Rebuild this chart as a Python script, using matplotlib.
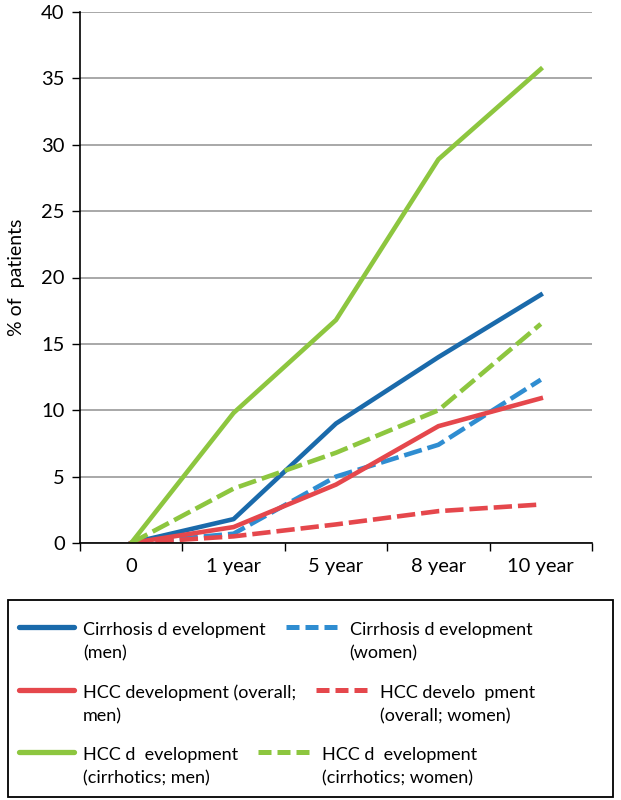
import matplotlib.pyplot as plt
from matplotlib.lines import Line2D
from matplotlib.patches import Rectangle
import numpy as np

plt.rcParams['font.family'] = ['Lato', 'DejaVu Sans']

# %% data
categories = ["0", "1 year", "5 year", "8 year", "10 year"]

cirr_men      = [0, 1.8, 9.0, 14.0, 18.7]
cirr_women    = [0, 0.7, 5.0, 7.4, 12.3]
hcc_men       = [0, 1.2, 4.4, 8.8, 10.9]
hcc_women     = [0, 0.5, 1.4, 2.4, 2.9]
hcc_cir_men   = [0, 9.8, 16.8, 28.9, 35.7]
hcc_cir_women = [0, 4.1, 6.8, 10.0, 16.5]

labels = ["Cirrhosis d evelopment\n(men)",
          "Cirrhosis d evelopment\n(women)",
          "HCC development (overall;\nmen)",
          "HCC develo  pment\n(overall; women)",
          "HCC d  evelopment\n(cirrhotics; men)",
          "HCC d  evelopment\n(cirrhotics; women)"]

blue_dark  = "#1a6aab"
blue_light = "#2f8dd1"
red        = "#e5474c"
green      = "#8dc63f"
dash       = (0, (4, 1.3))

# %% plot
W, H = 621, 800
fig = plt.figure(figsize = (W / 100, H / 100), dpi = 100)
ax = fig.add_axes([80 / W, 1 - 543 / H, 512 / W, 531 / H])

x = np.arange(len(categories))
lw = 3.3
ax.plot(x, cirr_men, color = blue_dark, lw = lw)
ax.plot(x, cirr_women, color = blue_light, lw = lw, ls = dash)
ax.plot(x, hcc_men, color = red, lw = lw)
ax.plot(x, hcc_women, color = red, lw = lw, ls = dash)
ax.plot(x, hcc_cir_men, color = green, lw = lw)
ax.plot(x, hcc_cir_women, color = green, lw = lw, ls = dash)

ax.set_ylim(0, 40)
ax.set_yticks(np.arange(0, 41, 5))
ax.set_xlim(-0.5, len(categories) - 0.5)
ax.set_xticks(np.arange(-0.5, len(categories), 1.0))
ax.set_xticklabels([])
ax.set_xticks(x, minor = True)
ax.set_xticklabels(categories, minor = True)
ax.tick_params(axis = "x", which = "minor", length = 0, pad = 11, labelsize = 14.5)
ax.tick_params(axis = "x", which = "major", length = 6, width = 1)
ax.tick_params(axis = "y", length = 6, width = 1, labelsize = 14.5, pad = 5)

ax.yaxis.grid(True, color = "#999999", lw = 1.2)
ax.set_axisbelow(True)
for s in ["top", "right"]:
    ax.spines[s].set_visible(False)
ax.spines["left"].set_linewidth(1.2)
ax.spines["bottom"].set_linewidth(1.2)

ax.set_ylabel("% of  patients", fontsize = 14, labelpad = 12)

# %% legend box drawn below the axes (row by row, as in the original)
fig.add_artist(Rectangle((8 / W, 1 - 797 / H), 605 / W, 197 / H, transform = fig.transFigure,
                         fill = False, edgecolor = "black", lw = 1.3))

def legend_entry(col, ls, lab, hx, hy):
    if ls == "-":
        fig.add_artist(Line2D([hx / W, (hx + 55) / W], [1 - hy / H, 1 - hy / H],
                              transform = fig.transFigure, color = col, lw = 3.8,
                              solid_capstyle = "round"))
    else:
        fig.add_artist(Line2D([hx / W, (hx + 51) / W], [1 - hy / H, 1 - hy / H],
                              transform = fig.transFigure, color = col, lw = 3.6,
                              ls = (0, (2.6, 1.2)), dash_capstyle = "butt"))
    return fig.text((hx + 64) / W, 1 - (hy + 31) / H, lab, fontsize = 13, va = "baseline",
                    ha = "left", linespacing = 1.55)

renderer = fig.canvas.get_renderer()
rows = [(blue_dark, blue_light, labels[0], labels[1], 627),
        (red,       red,        labels[2], labels[3], 690),
        (green,     green,      labels[4], labels[5], 752)]
for c1, c2, lab1, lab2, hy in rows:
    t = legend_entry(c1, "-", lab1, 19, hy)
    bb = t.get_window_extent(renderer)
    legend_entry(c2, dash, lab2, bb.x1 + 20, hy)

fig.savefig("out.png", dpi = 100)
